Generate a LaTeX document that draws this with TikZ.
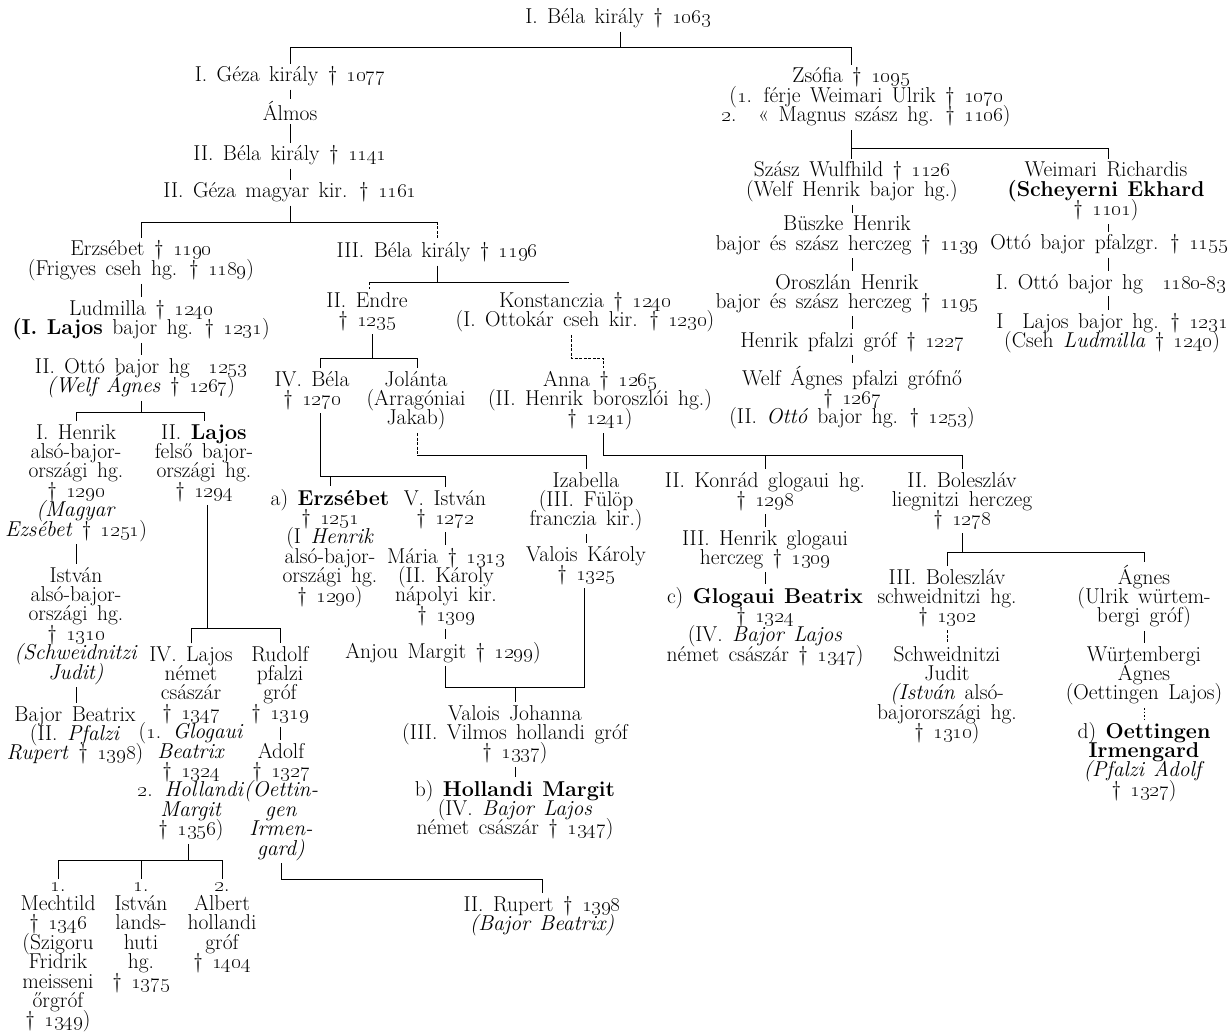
\documentclass[tikz,border=0pt]{standalone}
\newcommand\oy[1]{\oldstylenums{#1}}
\newcommand\nodefont{\fontsize{21.5}{19.4}\selectfont\spaceskip=9.5pt plus 1pt\relax}
\begin{document}
\lineskiplimit=-100pt
% Nodes are anchored at the baseline of their LAST line (pitch 19.4pt).
\begin{tikzpicture}[x=1pt,y=-1pt,
  txt/.style={inner sep=0pt, outer sep=3pt, align=center, anchor=base,
    font=\nodefont},
  link/.style={line width=0.8pt},
  faint/.style={line width=0.7pt, dash pattern=on 3pt off 1.5pt},
  dotline/.style={line width=0.7pt, dash pattern=on 1.5pt off 2pt}]
\fill[white] (0,0) rectangle (1228,1032);
\useasboundingbox (0,0) rectangle (1228,1032);

% ---------- people ----------
\node[txt] (bela1) at (618,24) {I. Béla király † \oy{1063}};
\node[txt] (geza1) at (290,82) {I. Géza király † \oy{1077}};
\node[txt] (almos) at (290,121) {Álmos};
\node[txt] (bela2) at (290,161) {II. Béla király † \oy{1141}};
\node[txt] (geza2) at (290,198) {II. Géza magyar kir. † \oy{1161}};

\node[txt] (zsofia) at (866,121.8) {Zsófia † \oy{1095}\hspace*{30pt}\\(\oy{1}. férje Weimari Ulrik † \oy{1070}\\\oy{2}.\quad« Magnus szász hg. † \oy{1106})};
\node[txt] (wulf) at (852,196.4) {Szász Wulfhild † \oy{1126}\\(Welf Henrik bajor hg.)};
\node[txt] (rich) at (1106,215.8) {Weimari Richardis\\\textbf{(Scheyerni Ekhard}\\† \oy{1101})};
\node[txt] (buszke) at (847,250.4) {Büszke Henrik\\bajor és szász herczeg † \oy{1139}};
\node[txt] (ottopf) at (1109,250) {Ottó bajor pfalzgr. † \oy{1155}};
\node[txt] (orosz) at (847,308.4) {Oroszlán Henrik\\bajor és szász herczeg † \oy{1195}};
\node[txt] (otto1) at (1111,289) {I. Ottó bajor hg\ \ \oy{1180}-\oy{83}};
\node[txt] (lajos1) at (1112,347.4) {I\ \ Lajos bajor hg. † \oy{1231}\\(Cseh \textit{Ludmilla} † \oy{1240})};
\node[txt] (henpf) at (852,347) {Henrik pfalzi gróf † \oy{1227}};
\node[txt] (welfa) at (852,423.8) {Welf Ágnes pfalzi grófnő\\† \oy{1267}\\(II. \textit{Ottó} bajor hg. † \oy{1253})};

\node[txt] (erzs) at (141,275.4) {Erzsébet † \oy{1190}\\(Frigyes cseh hg. † \oy{1189})};
\node[txt] (bela3) at (437,258) {III. Béla király † \oy{1196}};
\node[txt] (ludm) at (141,334.4) {Ludmilla † \oy{1240}\\\textbf{(I. Lajos} bajor hg. † \oy{1231})};
\node[txt] (endre) at (367,326.4) {II. Endre\\† \oy{1235}};
\node[txt] (konst) at (585,326.4) {Konstanczia † \oy{1240}\\(I. Ottokár cseh kir. † \oy{1230})};
\node[txt] (otto2) at (141,392.4) {II. Ottó bajor hg\ \ \oy{1253}\\\textit{(Welf Ágnes} † \oy{1267})};
\node[txt] (bela4) at (312,405.4) {IV. Béla\\† \oy{1270}};
\node[txt] (jol) at (416,424.8) {Jolánta\\(Arragóniai\\Jakab)};
\node[txt] (anna) at (600,424.8) {Anna † \oy{1265}\\(II. Henrik boroszlói hg.)\\† \oy{1241})};

\node[txt] (henrik1) at (76,536) {I. Henrik\\alsó-bajor-\\országi hg.\\† \oy{1290}\\\textit{(Magyar}\\\textit{Ezsébet} † \oy{1251})};
\node[txt] (lajos2) at (204,497.2) {II. \textbf{Lajos}\\felső bajor-\\országi hg.\\† \oy{1294}};
\node[txt] (istvan) at (76,679) {István\\alsó-bajor-\\országi hg.\\† \oy{1310}\\\textit{(Schweidnitzi}\\\textit{Judit)}};
\node[txt] (bajorb) at (75,759.8) {Bajor Beatrix\\(II. \textit{Pfalzi}\\\textit{Rupert} † \oy{1398})};
\node[txt] (lajos4) at (191,835.6) {IV. Lajos\\német\\császár\\† \oy{1347}\\(\oy{1}. \textit{Glogaui}\\\textit{Beatrix}\\† \oy{1324}\\\oy{2}. \textit{Hollandi}\\\textit{Margit}\\† \oy{1356})};
\node[txt] (rudolf) at (280,719.2) {Rudolf\\pfalzi\\gróf\\† \oy{1319}};
\node[txt] (adolf) at (281,855) {Adolf\\† \oy{1327}\\\textit{(Oettin-}\\\textit{gen}\\\textit{Irmen-}\\\textit{gard)}};
\node[txt] (ch1) at (58,1026.8) {\oy{1}.\\Mechtild\\† \oy{1346}\\(Szigoru\\Fridrik\\meisseni\\őrgróf\\† \oy{1349})};
\node[txt] (ch2) at (141,988) {\oy{1}.\\István\\lands-\\huti\\hg.\\† \oy{1375}};
\node[txt] (ch3) at (222,968.6) {\oy{2}.\\Albert\\hollandi\\gróf\\† \oy{1404}};
\node[txt] (rupert) at (542,930.4) {II. Rupert † \oy{1398}\\\textit{(Bajor Beatrix)}};

\node[txt] (erzsa) at (330,602) {a) \textbf{Erzsébet}\\† \oy{1251}\\(I \textit{Henrik}\\alsó-bajor-\\országi hg.\\† \oy{1290})};
\node[txt] (istvan5) at (445,524.4) {V. István\\† \oy{1272}};
\node[txt] (maria) at (446,621.2) {Mária † \oy{1313}\\(II. Károly\\nápolyi kir.\\† \oy{1309}};
\node[txt] (anjou) at (443,658) {Anjou Margit † \oy{1299})};
\node[txt] (izab) at (586,525.8) {Izabella\\(III. Fülöp\\franczia kir.)};
\node[txt] (valk) at (586,580.4) {Valois Károly\\† \oy{1325}};
\node[txt] (joh) at (515,758.8) {Valois Johanna\\(III. Vilmos hollandi gróf\\† \oy{1337})};
\node[txt] (holm) at (515,834.8) {b) \textbf{Hollandi Margit}\\(IV. \textit{Bajor Lajos}\\német császár † \oy{1347})};

\node[txt] (konrad) at (765,506.4) {II. Konrád glogaui hg.\\† \oy{1298}};
\node[txt] (henrik3) at (765,564.4) {III. Henrik glogaui\\herczeg † \oy{1309}};
\node[txt] (beatg) at (765,661.2) {c) \textbf{Glogaui Beatrix}\\† \oy{1324}\\(IV. \textit{Bajor Lajos}\\német császár † \oy{1347})};
\node[txt] (bol2) at (962,525.8) {II. Boleszláv\\liegnitzi herczeg\\† \oy{1278}};
\node[txt] (bol3) at (947,622.8) {III. Boleszláv\\schweidnitzi hg.\\† \oy{1302}};
\node[txt] (judit) at (947,738.6) {Schweidnitzi\\Judit\\\textit{(István} alsó-\\bajorországi hg.\\† \oy{1310})};
\node[txt] (agnes) at (1144,622.8) {Ágnes\\(Ulrik würtem-\\bergi gróf)};
\node[txt] (wagnes) at (1144,699.8) {Würtembergi\\Ágnes\\(Oettingen Lajos)};
\node[txt] (irmen) at (1144,796.2) {d)\ \textbf{Oettingen}\\\textbf{Irmengard}\\\textit{(Pfalzi Adolf}\\† \oy{1327})};

% ---------- bar levels and stem columns ----------
\coordinate (b0M) at (620,47);  \coordinate (b0R) at (851,47);
\coordinate (b1) at (0,222);    \coordinate (b2) at (0,412);
\coordinate (b3) at (0,628);    \coordinate (b4) at (0,860);
\coordinate (b5) at (0,879);    \coordinate (b6) at (0,282);
\coordinate (b7) at (0,358);    \coordinate (b8) at (0,476);
\coordinate (b9) at (0,455);    \coordinate (b10) at (0,687);
\coordinate (b11) at (0,552);   \coordinate (b12) at (0,148);
\coordinate (l2) at (207,0);    \coordinate (l4) at (188,0);
\coordinate (e6) at (369,0);    \coordinate (k6) at (569,0);
\coordinate (xe) at (372,0);    \coordinate (x4b) at (320,0);
\coordinate (xjo) at (417,0);   \coordinate (xk) at (571,0);
\coordinate (xa) at (603,0);    \coordinate (xis) at (445,0);
\coordinate (xvk) at (584,0);   \coordinate (xjh) at (515,0);
\coordinate (xz) at (851,0);    \coordinate (xr) at (1108,0);
\coordinate (xw) at (852,0);

% ---------- descent lines ----------
\draw[link] (b0M |- bela1.south) -- (b0M);
\draw[link] (geza1.north) -- (geza1.north |- b0M) -- (b0R) -- (b0R |- zsofia.north);

\draw[link] (geza1.south) -- (geza1.south |- almos.north);
\draw[link] (almos.south) -- (almos.south |- bela2.north);
\draw[link] (bela2.south) -- (bela2.south |- geza2.north);
\draw[link] (geza2.south) -- (geza2.south |- b1);
\draw[link] (erzs.north) -- (erzs.north |- b1) -- (bela3.north |- b1);
\draw[faint] (bela3.north |- b1) -- (bela3.north);

\draw[link] (erzs.south) -- (erzs.south |- ludm.north);
\draw[link] (ludm.south) -- (ludm.south |- otto2.north);
\draw[link] (otto2.south) -- (otto2.south |- b2);
\draw[link] (henrik1.north) -- (henrik1.north |- b2) -- (lajos2.north |- b2) -- (lajos2.north);
\draw[link] (henrik1.south) -- (henrik1.south |- istvan.north);
\draw[link] (istvan.south) -- (istvan.south |- bajorb.north);
\draw[link] (l2 |- lajos2.south) -- (l2 |- b3);
\draw[link] (lajos4.north) -- (lajos4.north |- b3) -- (rudolf.north |- b3) -- (rudolf.north);
\draw[link] (l4 |- lajos4.south) -- (l4 |- b4);
\draw[link] (ch1.north) -- (ch1.north |- b4) -- (ch3.north |- b4) -- (ch3.north);
\draw[link] (ch2.north |- b4) -- (ch2.north);
\draw[link] (rudolf.south) -- (rudolf.south |- adolf.north);
\draw[link] (adolf.south) -- (adolf.south |- b5) -- (rupert.north |- b5) -- (rupert.north);

\draw[link] (bela3.south) -- (bela3.south |- b6);
\draw[link] (e6 |- b6) -- (k6 |- b6);
\draw[faint] (e6 |- b6) -- (e6 |- endre.north);
\draw[link] (xe |- endre.south) -- (xe |- b7);
\draw[link] (x4b |- bela4.north) -- (x4b |- b7) -- (xjo |- b7) -- (xjo |- jol.north);
\draw[faint] (xk |- konst.south) -- (xk |- b7) -- (xa |- b7) -- (xa |- anna.north);

\draw[link] (x4b |- bela4.south) -- (x4b |- b8) -- (xis |- b8) -- (xis |- istvan5.north);
\draw[link] (erzsa.north |- b8) -- (erzsa.north);
\draw[faint] (xjo |- jol.south) -- (xjo |- b9);
\draw[link] (xjo |- b9) -- (izab.north |- b9) -- (izab.north);
\draw[link] (xa |- anna.south) -- (xa |- b9) -- (bol2.north |- b9) -- (bol2.north);
\draw[link] (konrad.north |- b9) -- (konrad.north);

\draw[link] (xis |- istvan5.south) -- (xis |- maria.north);
\draw[link] (xis |- maria.south) -- (xis |- anjou.north);
\draw[link] (xis |- anjou.south) -- (xis |- b10) -- (xvk |- b10) -- (xvk |- valk.south);
\draw[link] (xjh |- b10) -- (xjh |- joh.north);
\draw[link] (izab.south) -- (izab.south |- valk.north);
\draw[link] (joh.south) -- (joh.south |- holm.north);

\draw[link] (konrad.south) -- (konrad.south |- henrik3.north);
\draw[link] (henrik3.south) -- (henrik3.south |- beatg.north);
\draw[link] (bol2.south) -- (bol2.south |- b11);
\draw[link] (bol3.north) -- (bol3.north |- b11) -- (agnes.north |- b11) -- (agnes.north);
\draw[faint] (bol3.south) -- (bol3.south |- judit.north);
\draw[link] (agnes.south) -- (agnes.south |- wagnes.north);
\draw[dotline] (wagnes.south) -- (wagnes.south |- irmen.north);

\draw[link] (xz |- zsofia.south) -- (xz |- b12) -- (xr |- b12) -- (xr |- rich.north);
\draw[link] (xz |- b12) -- (xz |- wulf.north);
\draw[link] (xw |- wulf.south) -- (xw |- buszke.north);
\draw[link] (xw |- buszke.south) -- (xw |- orosz.north);
\draw[link] (xw |- orosz.south) -- (xw |- henpf.north);
\draw[link] (xw |- henpf.south) -- (xw |- welfa.north);
\draw[link] (xr |- rich.south) -- (xr |- ottopf.north);
\draw[link] (xr |- ottopf.south) -- (xr |- otto1.north);
\draw[link] (xr |- otto1.south) -- (xr |- lajos1.north);
\end{tikzpicture}
\end{document}
